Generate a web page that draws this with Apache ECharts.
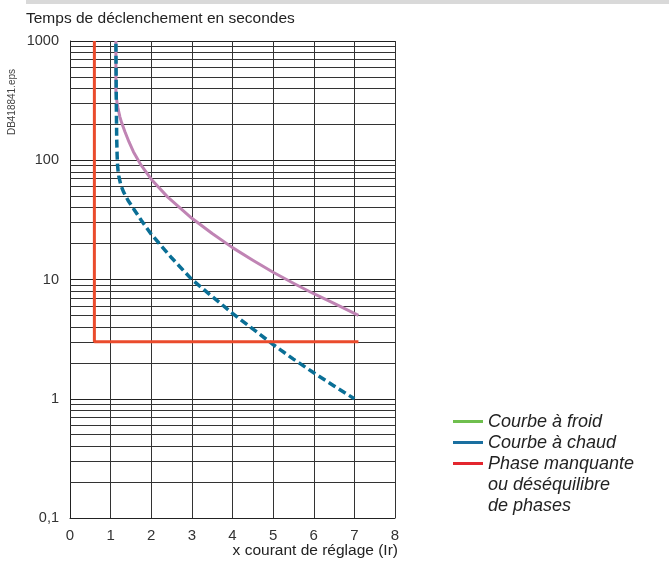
<!DOCTYPE html>
<html><head><meta charset="utf-8">
<script src="https://cdn.jsdelivr.net/npm/echarts@6/dist/echarts.min.js"></script>
<style>html,body{margin:0;padding:0;background:#fff}#c{width:669px;height:561px}</style>
</head><body><div id="c"></div>
<script>
const titleText = 'Temps de déclenchement en secondes';
const xAxisName = 'x courant de réglage (Ir)';
const sourceId = 'DB418841.eps';
const yTicks = [0.1, 1, 10, 100, 1000];
const yTickLabels = ['0,1', '1', '10', '100', '1000'];
const seriesNames = ['Courbe à froid', 'Courbe à chaud', 'Phase manquante'];
const legendExtraLines = ['ou déséquilibre', 'de phases'];

// Courbe à froid (drawn purple in the figure)
const coldX = [1.13, 1.13, 1.145, 1.16, 1.18, 1.2, 1.23, 1.27, 1.35, 1.45, 1.56, 1.75, 2.0, 2.4, 3.0, 3.5, 4.0, 4.5, 5.0, 5.5, 6.0, 6.5, 7.1];
const coldY = [1000, 380, 330, 300, 275, 255, 230, 207, 174, 143, 118, 91, 69.3, 49.3, 32.6, 24.3, 18.5, 14.5, 11.5, 9.3, 7.6, 6.3, 5.0];
// Courbe à chaud (dashed blue)
const hotX = [1.13, 1.14, 1.15, 1.16, 1.17, 1.185, 1.2, 1.25, 1.32, 1.43, 1.58, 1.75, 2.0, 2.5, 3.0, 3.5, 4.0, 4.5, 5.0, 5.5, 6.0, 6.5, 7.0];
const hotY = [950, 300, 150, 110, 92, 80, 74, 62, 54, 46, 38.5, 31.5, 24, 15.2, 10, 7.2, 5.2, 3.85, 2.85, 2.15, 1.65, 1.28, 1.0];
// Phase manquante
const phaseX = [0.6, 0.6, 7.1];
const phaseY = [1000, 3, 3];

const minorGridValues = [0.2,0.3,0.4,0.5,0.6,0.7,0.8,0.9, 2,3,4,5,6,7,8,9, 20,30,40,50,60,70,80,90, 200,300,400,500,600,700,800,900];

const FONT = 'Liberation Sans, Arial, sans-serif';
const pairs = (xs, ys) => xs.map((x, i) => [x, ys[i]]);

const chart = echarts.init(document.getElementById('c'), null, {renderer: 'canvas'});
chart.setOption({
  animation: false,
  backgroundColor: '#fff',
  title: {
    text: titleText, left: 26, top: 11, padding: 0,
    textStyle: {fontFamily: FONT, fontSize: 15.5, fontWeight: 'normal', color: '#222'}
  },
  grid: {left: 70, right: 274, top: 41, bottom: 43},
  xAxis: {
    type: 'value', min: 0, max: 8, interval: 1,
    axisLine: {show: true, lineStyle: {color: '#222', width: 1}},
    axisTick: {show: false},
    axisLabel: {margin: 10, fontFamily: FONT, fontSize: 15, color: '#333'},
    splitLine: {show: true, lineStyle: {color: '#333', width: 1}}
  },
  yAxis: {
    type: 'log', logBase: 10, min: 0.1, max: 1000,
    axisLine: {show: true, lineStyle: {color: '#222', width: 1}},
    axisTick: {show: false},
    axisLabel: {
      margin: 11, fontFamily: FONT, fontSize: 14.5, color: '#333',
      formatter: function (v) {
        for (let i = 0; i < yTicks.length; i++) {
          if (Math.abs(Math.log10(v) - Math.log10(yTicks[i])) < 1e-6) return yTickLabels[i];
        }
        return '';
      }
    },
    splitLine: {show: true, lineStyle: {color: '#222', width: 1}}
  },
  legend: {
    orient: 'vertical', left: 453, top: 411, itemGap: 0, padding: 0,
    itemWidth: 30, itemHeight: 3, icon: 'rect',
    textStyle: {fontFamily: FONT, fontSize: 18, fontStyle: 'italic', color: '#222', lineHeight: 21},
    selectedMode: false,
    data: [
      {name: seriesNames[0], itemStyle: {color: '#6fbf4e'}},
      {name: seriesNames[1], itemStyle: {color: '#1a6fa0'}},
      {name: seriesNames[2], itemStyle: {color: '#e3262e'}}
    ]
  },
  graphic: [
    {type: 'rect', left: 26, top: 0, shape: {width: 643, height: 4}, style: {fill: '#d9d9d9'}},
    {type: 'text', x: 12, y: 102, rotation: Math.PI / 2,
      style: {text: sourceId, fontFamily: FONT, fontSize: 10, fill: '#444', align: 'center', verticalAlign: 'middle'}},
    {type: 'text', x: 398, y: 551,
      style: {text: xAxisName, fontFamily: FONT, fontSize: 15.5, fill: '#222', align: 'right', verticalAlign: 'middle'}},
    {type: 'text', x: 488, y: 485,
      style: {text: legendExtraLines[0], fontFamily: FONT, fontSize: 18, fontStyle: 'italic', fill: '#222', align: 'left', verticalAlign: 'middle'}},
    {type: 'text', x: 488, y: 506,
      style: {text: legendExtraLines[1], fontFamily: FONT, fontSize: 18, fontStyle: 'italic', fill: '#222', align: 'left', verticalAlign: 'middle'}}
  ],
  series: [
    {
      name: 'grid-minor', type: 'line', data: [], z: 1, silent: true,
      markLine: {
        silent: true, z: 1, symbol: ['none', 'none'], animation: false,
        label: {show: false},
        lineStyle: {type: 'solid', color: '#333', width: 1},
        emphasis: {disabled: true},
        data: minorGridValues.map(v => ({yAxis: v}))
      }
    },
    {
      name: seriesNames[0], type: 'line', data: pairs(coldX, coldY), z: 10,
      showSymbol: false, smooth: false,
      lineStyle: {color: '#c084b4', width: 3, join: 'round'}, itemStyle: {color: '#c084b4'}
    },
    {
      name: seriesNames[1], type: 'line', data: pairs(hotX, hotY), z: 11,
      showSymbol: false, smooth: false,
      lineStyle: {color: '#0a6f96', width: 3.5, type: [8, 4], join: 'round'}, itemStyle: {color: '#0a6f96'}
    },
    {
      name: seriesNames[2], type: 'line', data: pairs(phaseX, phaseY), z: 12,
      showSymbol: false,
      lineStyle: {color: '#ea4b2c', width: 3}, itemStyle: {color: '#ea4b2c'}
    }
  ]
});
</script>
</body></html>
